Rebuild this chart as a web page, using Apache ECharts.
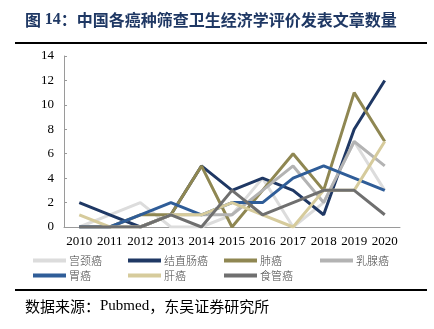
<!DOCTYPE html>
<html><head><meta charset="utf-8">
<script src="https://cdn.jsdelivr.net/npm/echarts@6/dist/echarts.min.js"></script>
<style>html,body{margin:0;padding:0;background:#fff}#c{width:434px;height:329px}</style>
</head><body><div id="c"></div>
<script>
const years = ['2010','2011','2012','2013','2014','2015','2016','2017','2018','2019','2020'];
const seriesNames = ['宫颈癌','结直肠癌','肺癌','乳腺癌','胃癌','肝癌','食管癌'];
const cervical   = [0,1,2,0,0,1,4,0,2,7,3];
const colorectal = [2,1,0,1,5,3,4,3,1,8,12];
const lung       = [0,0,1,1,5,0,3,6,3,11,7];
const breast     = [0,0,0,1,1,1,3,5,2,7,5];
const gastric    = [0,0,1,2,1,2,2,4,5,4,3];
const liver      = [1,0,0,1,1,2,1,0,3,3,7];
const esophageal = [0,0,0,1,0,3,1,2,3,3,1];
const seriesData = [cervical, colorectal, lung, breast, gastric, liver, esophageal];
const colors = ['#dcdcdc','#1f3864','#8f8752','#b3b3b3','#2f5d98','#d6cb9c','#6f6f6f'];

const chart = echarts.init(document.getElementById('c'), null, {renderer:'canvas'});
const legendLefts = [33,128,224,320];
const legendTops = [255,270];
const cjk = '"Noto Sans CJK SC", sans-serif';
const serif = '"Liberation Serif", "Times New Roman", serif';

chart.setOption({
  animation:false,
  backgroundColor:'#fff',
  color: colors,
  grid:{left:64, right:34, top:56, bottom:102, containLabel:false},
  xAxis:{
    type:'category', data:years, boundaryGap:true,
    axisLine:{lineStyle:{color:'#9a9a9a', width:1}},
    axisTick:{inside:true, length:4, lineStyle:{color:'#9a9a9a'}},
    axisLabel:{fontFamily:serif, fontSize:13, color:'#000', margin:8, interval:0}
  },
  yAxis:{
    type:'value', min:0, max:14, interval:2,
    splitLine:{show:false},
    axisLine:{show:true, lineStyle:{color:'#9a9a9a', width:1}},
    axisTick:{show:true, inside:true, length:3, lineStyle:{color:'#9a9a9a'}},
    axisLabel:{fontFamily:serif, fontSize:13, color:'#000', margin:10}
  },
  legend: seriesNames.map((n,i)=>({
    data:[n], left:legendLefts[i%4], top:legendTops[Math.floor(i/4)],
    icon:'rect', itemWidth:33, itemHeight:4, padding:0, itemGap:0,
    textStyle:{fontFamily:cjk, fontSize:11, color:'#444', fontWeight:300, padding:[0,0,0,-2]}
  })),
  series: seriesNames.map((n,i)=>({
    name:n, type:'line', data:seriesData[i], symbol:'none', showSymbol:false,
    lineStyle:{width:3, color:colors[i]}, itemStyle:{color:colors[i]}
  })),
  graphic:[
    {type:'text', left:25, top:12, style:{
      text:'{a|图 }{b|14}{a|：中国各癌种筛查卫生经济学评价发表文章数量}',
      rich:{
        a:{fontFamily:cjk, fontWeight:'bold', fontSize:16, fill:'#1f3864'},
        b:{fontFamily:serif, fontWeight:'bold', fontSize:16, fill:'#1f3864'}
      }
    }},
    {type:'line', shape:{x1:15, y1:43, x2:427, y2:43}, style:{stroke:'#000', lineWidth:2}},
    {type:'line', shape:{x1:15, y1:290, x2:427, y2:290}, style:{stroke:'#000', lineWidth:2}},
    {type:'text', left:25, top:299, style:{
      text:'{a|数据来源：}{b|Pubmed}{a|，东吴证券研究所}',
      rich:{
        a:{fontFamily:cjk, fontSize:15, fill:'#000'},
        b:{fontFamily:serif, fontSize:15, fill:'#000'}
      }
    }}
  ]
});
</script></body></html>
